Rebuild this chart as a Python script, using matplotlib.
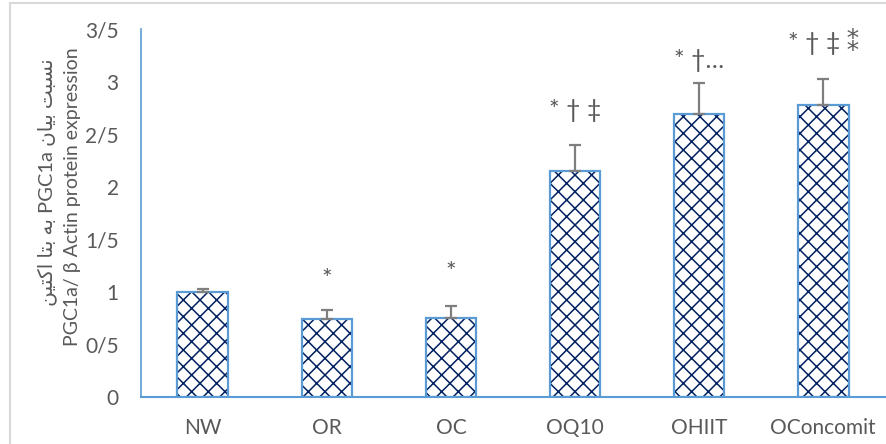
import matplotlib.pyplot as plt
from matplotlib.patches import Rectangle

plt.rcParams['font.family'] = ['Lato', 'DejaVu Sans']
plt.rcParams['hatch.linewidth'] = 1.1

# data
groups = ['NW', 'OR', 'OC', 'OQ10', 'OHIIT', 'OConcomit']
means = [1.00, 0.74, 0.75, 2.15, 2.69, 2.78]
errors = [0.03, 0.09, 0.12, 0.25, 0.30, 0.25]
marks = ['', '*', '*', '* \u2020 \u2021', '* \u2020\u2026', '* \u2020 \u2021 \u2051']
yticks = [0, 0.5, 1, 1.5, 2, 2.5, 3, 3.5]
ytick_labels = ['0', '0/5', '1', '1/5', '2', '2/5', '3', '3/5']

# persian label, shaped glyphs in visual (left to right) order
fa_label = ('\uFEE6\uFEF4\uFE98\uFEDB\uFE8D \uFE8E\uFE98\uFE91 \uFEEA\uFE91 PGC1a '
            '\uFEE5\uFE8E\uFEF4\uFE91 \uFE96\uFE92\uFEB4\uFEE7')
en_label = 'PGC1a/ \u03b2 Actin protein expression'

blue = '#5B9BD5'
navy = '#002060'
grey_txt = '#595959'

fig = plt.figure(figsize=(8.86, 4.44), dpi=100)
ax = fig.add_axes([0.159, 0.106, 0.84, 0.828])

x = range(len(groups))
# hatch takes the edge colour, so draw hatch and outline separately
ax.bar(x, means, width=0.41, color='white', edgecolor=navy, linewidth=0,
       hatch='xx', zorder=2)
ax.bar(x, means, width=0.41, fill=False, edgecolor=blue, linewidth=1.6,
       zorder=3)
ax.errorbar(x, means, yerr=[[0] * len(errors), errors], fmt='none',
            ecolor='#7F7F7F', elinewidth=1.6, capsize=4, capthick=1.6, zorder=4)

# significance marks above the error bars
offsets = [0, 22, 24, 25, 16, 27]
for i, m in enumerate(marks):
    if m:
        ax.annotate(m, (i, means[i] + errors[i]), xytext=(0, offsets[i]),
                    textcoords='offset points', ha='center', va='center',
                    fontsize=18, color=grey_txt)

ax.set_xlim(-0.5, len(groups) - 0.5)
ax.set_ylim(0, 3.5)
ax.set_yticks(yticks)
ax.set_yticklabels(ytick_labels)
ax.set_xticks(list(x))
ax.set_xticklabels(groups)
ax.tick_params(axis='both', length=0, labelsize=15, labelcolor=grey_txt)
ax.tick_params(axis='y', pad=16)
ax.tick_params(axis='x', pad=15)

for s in ['top', 'right']:
    ax.spines[s].set_visible(False)
ax.spines['left'].set_color(blue)
ax.spines['bottom'].set_color(blue)
ax.spines['left'].set_linewidth(1.2)
ax.spines['bottom'].set_linewidth(1.5)

# two-line y label: persian on the left, english next to it
fig.text(47 / 886, 1 - 182 / 444, fa_label, rotation=90, ha='center',
         va='center', fontsize=14.5, color=grey_txt)
fig.text(73 / 886, 1 - 197 / 444, en_label, rotation=90, ha='center',
         va='center', fontsize=14, color=grey_txt)

# outer chart frame (left and top edges visible)
fig.patches.append(Rectangle((10 / 886, -0.1), 1.2, 1.1 - 3 / 444,
                             transform=fig.transFigure, fill=False,
                             edgecolor='#D9D9D9', linewidth=1.5))

fig.savefig('out.png', dpi=100)
